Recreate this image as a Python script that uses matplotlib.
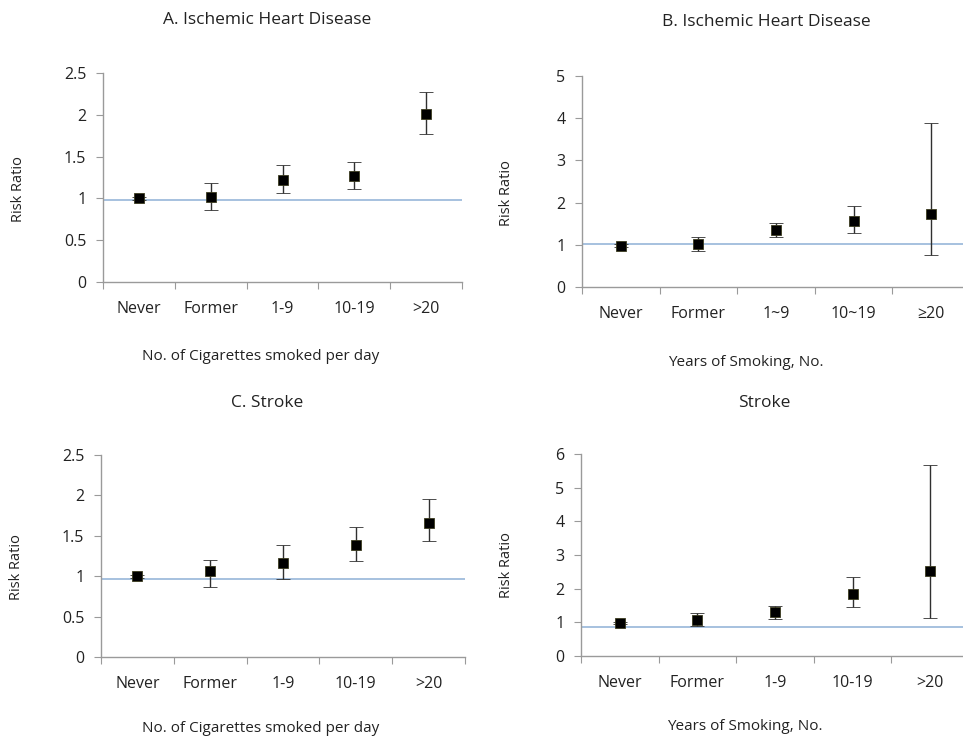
import numpy as np
import matplotlib
matplotlib.use("Agg")
import matplotlib.pyplot as plt

plt.rcParams["font.family"] = ["Open Sans", "DejaVu Sans"]

W, H = 963, 737

# ---- data (risk ratio, lower CI, upper CI) ----
cig_labels = ["Never", "Former", "1-9", "10-19", ">20"]
years_labels_b = ["Never", "Former", "1~9", "10~19", "\u226520"]
years_labels_d = ["Never", "Former", "1-9", "10-19", ">20"]

ihd_cig_rr = [1.00, 1.02, 1.22, 1.27, 2.01]
ihd_cig_lo = [0.98, 0.86, 1.06, 1.11, 1.77]
ihd_cig_hi = [1.02, 1.19, 1.40, 1.43, 2.27]

ihd_yrs_rr = [0.98, 1.01, 1.35, 1.57, 1.72]
ihd_yrs_lo = [0.95, 0.86, 1.19, 1.27, 0.77]
ihd_yrs_hi = [1.01, 1.19, 1.51, 1.93, 3.88]

stk_cig_rr = [1.00, 1.07, 1.16, 1.38, 1.66]
stk_cig_lo = [0.98, 0.87, 0.96, 1.19, 1.43]
stk_cig_hi = [1.02, 1.20, 1.38, 1.61, 1.95]

stk_yrs_rr = [0.99, 1.06, 1.31, 1.84, 2.52]
stk_yrs_lo = [0.96, 0.88, 1.11, 1.46, 1.12]
stk_yrs_hi = [1.02, 1.28, 1.50, 2.35, 5.68]

ref_lines = [0.98, 1.01, 0.97, 0.86]


def px_axes(fig, left, right, top, bottom):
    return fig.add_axes([left / W, 1 - bottom / H, (right - left) / W, (bottom - top) / H])


def panel(ax, labels, rr, lo, hi, ymax, ystep, ref):
    x = np.arange(len(labels)) + 0.5
    rr = np.asarray(rr)
    yerr = [rr - np.asarray(lo), np.asarray(hi) - rr]
    ax.axhline(ref, color="#8eb0d6", lw=1.1, zorder=1)
    ax.errorbar(x, rr, yerr=yerr, fmt="s", ms=6.5, mfc="black", mec="#3b3b1f", mew=0.6,
                ecolor="#303030", elinewidth=1.0, capsize=5, capthick=2.8, zorder=3)
    ax.set_xlim(0, len(labels))
    ax.set_ylim(0, ymax)
    ax.set_yticks(np.arange(0, ymax + 1e-9, ystep))
    ax.set_yticklabels([f"{v:g}" for v in np.arange(0, ymax + 1e-9, ystep)])
    ax.set_xticks(np.arange(len(labels) + 1))
    ax.set_xticklabels([])
    ax.set_xticks(x, minor=True)
    ax.set_xticklabels(labels, minor=True)
    for s in ["top", "right"]:
        ax.spines[s].set_visible(False)
    for s in ["left", "bottom"]:
        ax.spines[s].set_color("#9a9a9a")
        ax.spines[s].set_linewidth(1.0)
    ax.tick_params(axis="y", length=5, color="#9a9a9a", pad=7, labelsize=11.5, labelcolor="#222222")
    ax.tick_params(axis="x", which="major", length=5, color="#9a9a9a")
    ax.tick_params(axis="x", which="minor", length=0, pad=14, labelsize=11.5, labelcolor="#222222")


fig = plt.figure(figsize=(W / 100, H / 100), dpi=100)

axA = px_axes(fig, 103, 462, 73, 282)
panel(axA, cig_labels, ihd_cig_rr, ihd_cig_lo, ihd_cig_hi, 2.5, 0.5, ref_lines[0])
axB = px_axes(fig, 582, 970, 76, 287)
panel(axB, years_labels_b, ihd_yrs_rr, ihd_yrs_lo, ihd_yrs_hi, 5, 1, ref_lines[1])
axC = px_axes(fig, 101, 465, 455, 657)
panel(axC, cig_labels, stk_cig_rr, stk_cig_lo, stk_cig_hi, 2.5, 0.5, ref_lines[2])
axD = px_axes(fig, 581, 969, 454, 656)
panel(axD, years_labels_d, stk_yrs_rr, stk_yrs_lo, stk_yrs_hi, 6, 1, ref_lines[3])


def ftext(x, y, s, **kw):
    fig.text(x / W, 1 - y / H, s, ha="center", va="center", color="#222222", **kw)


ftext(267, 20, "A. Ischemic Heart Disease", fontsize=12.5)
ftext(766, 22, "B. Ischemic Heart Disease", fontsize=12.5)
ftext(267, 403, "C. Stroke", fontsize=12.5)
ftext(764, 403, "Stroke", fontsize=12.5)

ftext(261, 356, "No. of Cigarettes smoked per day", fontsize=11)
ftext(746, 362, "Years of Smoking, No.", fontsize=11)
ftext(261, 729, "No. of Cigarettes smoked per day", fontsize=11)
ftext(745, 727, "Years of Smoking, No.", fontsize=11)

ftext(18, 189, "Risk Ratio", fontsize=10.5, rotation=90)
ftext(506, 193, "Risk Ratio", fontsize=10.5, rotation=90)
ftext(16, 567, "Risk Ratio", fontsize=10.5, rotation=90)
ftext(506, 565, "Risk Ratio", fontsize=10.5, rotation=90)

fig.savefig("out.png", dpi=100)
